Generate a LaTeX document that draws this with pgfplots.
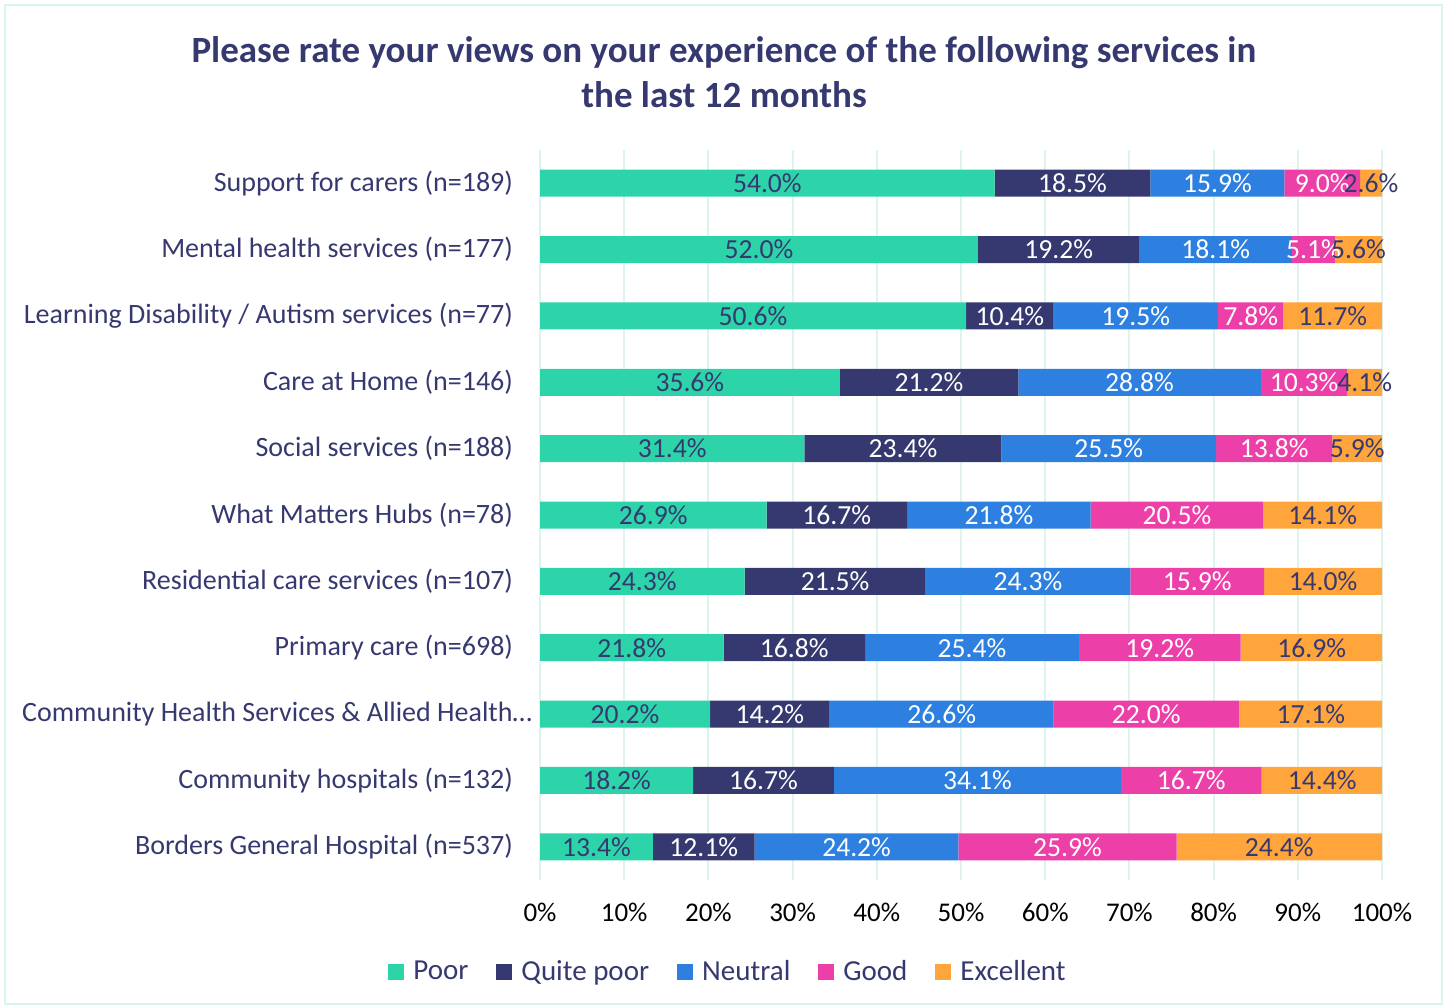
\documentclass[border=0pt]{standalone}
\usepackage{fontspec}
\setmainfont{Carlito}
\usepackage{pgfplots}
\pgfplotsset{compat=1.18}
\usepackage{pgfplotstable}

\definecolor{cpoor}{HTML}{2DD4AA}
\definecolor{cqpoor}{HTML}{363970}
\definecolor{cneutral}{HTML}{2E80E0}
\definecolor{cgood}{HTML}{EC40A8}
\definecolor{cexc}{HTML}{FFA53C}
\definecolor{navy}{HTML}{363970}
\definecolor{gridc}{HTML}{DDF5EE}
\definecolor{bordc}{HTML}{D8F5EC}

% shares in %, top row first
\pgfplotstableread{
idx poor qpoor neutral good excellent
0  54.0 18.5 15.9  9.0  2.6
1  52.0 19.2 18.1  5.1  5.6
2  50.6 10.4 19.5  7.8 11.7
3  35.6 21.2 28.8 10.3  4.1
4  31.4 23.4 25.5 13.8  5.9
5  26.9 16.7 21.8 20.5 14.1
6  24.3 21.5 24.3 15.9 14.0
7  21.8 16.8 25.4 19.2 16.9
8  20.2 14.2 26.6 22.0 17.1
9  18.2 16.7 34.1 16.7 14.4
10 13.4 12.1 24.2 25.9 24.4
}\datatable

% centre of each segment, for the value labels
\pgfplotstablecreatecol[create col/expr={\thisrow{poor}/2}]{mpoor}\datatable
\pgfplotstablecreatecol[create col/expr={\thisrow{poor}+\thisrow{qpoor}/2}]{mqpoor}\datatable
\pgfplotstablecreatecol[create col/expr={\thisrow{poor}+\thisrow{qpoor}+\thisrow{neutral}/2}]{mneutral}\datatable
\pgfplotstablecreatecol[create col/expr={\thisrow{poor}+\thisrow{qpoor}+\thisrow{neutral}+\thisrow{good}/2}]{mgood}\datatable
\pgfplotstablecreatecol[create col/expr={\thisrow{poor}+\thisrow{qpoor}+\thisrow{neutral}+\thisrow{good}+\thisrow{excellent}/2}]{mexcellent}\datatable

\newcommand\lbl[2]{%
  \addplot[draw=none, mark=none,
    every node near coord/.append style={text=#2}]
    table[x=m#1, y=idx, meta=#1]{\datatable};}

\pgfplotsset{frame/.style={
  at={(270pt,63.5pt)}, anchor=south west,
  scale only axis, width=421pt, height=365pt,
  xmin=0, xmax=100, ymin=-0.5, ymax=10.5,
  y dir=reverse,
  /pgf/number format/assume math mode=true}}

\begin{document}
\begin{tikzpicture}
\path[use as bounding box] (0,0) rectangle (724.5pt,503.5pt);
\draw[bordc, line width=1pt] (2.5pt,1.5pt) rectangle (721pt,501pt);
\node[align=center, text=navy, font=\fontsize{18.5}{22.5}\selectfont\bfseries]
  at (362pt,467.25pt) {Please rate your views on your experience of the following services in\\the last 12 months};
\begin{axis}[
  frame,
  xbar stacked, bar width=13.5pt,
  axis line style={draw=none},
  major tick length=0pt,
  xmajorgrids, major grid style={draw=gridc, line width=1pt},
  xtick={0,10,...,100},
  xticklabel={\pgfmathprintnumber{\tick}\%},
  xticklabel style={font=\fontsize{13.5}{15}\selectfont, text=black, yshift=-8pt},
  ytick={0,...,10},
  yticklabels={
    Support for carers (n=189),
    Mental health services (n=177),
    Learning Disability / Autism services (n=77),
    Care at Home (n=146),
    Social services (n=188),
    What Matters Hubs (n=78),
    Residential care services (n=107),
    Primary care (n=698),
    Community Health Services \& Allied Health…\hspace*{-9.5pt},
    Community hospitals (n=132),
    Borders General Hospital (n=537)},
  yticklabel style={font=\fontsize{14}{16}\selectfont, text=navy, xshift=-10pt},
  legend style={at={(0.2245,-0.126)}, anchor=center, draw=none,
    font=\fontsize{14.5}{16}\selectfont, text=navy,
    legend columns=-1,
    /tikz/every odd column/.append style={column sep=2.5pt},
    /tikz/every even column/.append style={column sep=12pt}},
  legend image code/.code={\fill[#1] (0pt,-4pt) rectangle (8pt,4pt);},
]
\addplot[fill=cpoor, draw=none] table[x=poor, y=idx]{\datatable};
\addplot[fill=cqpoor, draw=none] table[x=qpoor, y=idx]{\datatable};
\addplot[fill=cneutral, draw=none] table[x=neutral, y=idx]{\datatable};
\addplot[fill=cgood, draw=none] table[x=good, y=idx]{\datatable};
\addplot[fill=cexc, draw=none] table[x=excellent, y=idx]{\datatable};
\legend{Poor, Quite poor, Neutral, Good, Excellent}
\end{axis}
\begin{axis}[
  frame, hide axis, clip=false,
  point meta=explicit,
  nodes near coords={\pgfmathprintnumber[fixed,fixed zerofill,precision=1]{\pgfplotspointmeta}\%},
  every node near coord/.append style={anchor=center, inner sep=0pt,
    font=\fontsize{13.8}{15}\selectfont},
]
\lbl{poor}{navy}
\lbl{qpoor}{white}
\lbl{neutral}{white}
\lbl{good}{white}
\lbl{excellent}{navy}
\end{axis}
\end{tikzpicture}
\end{document}
